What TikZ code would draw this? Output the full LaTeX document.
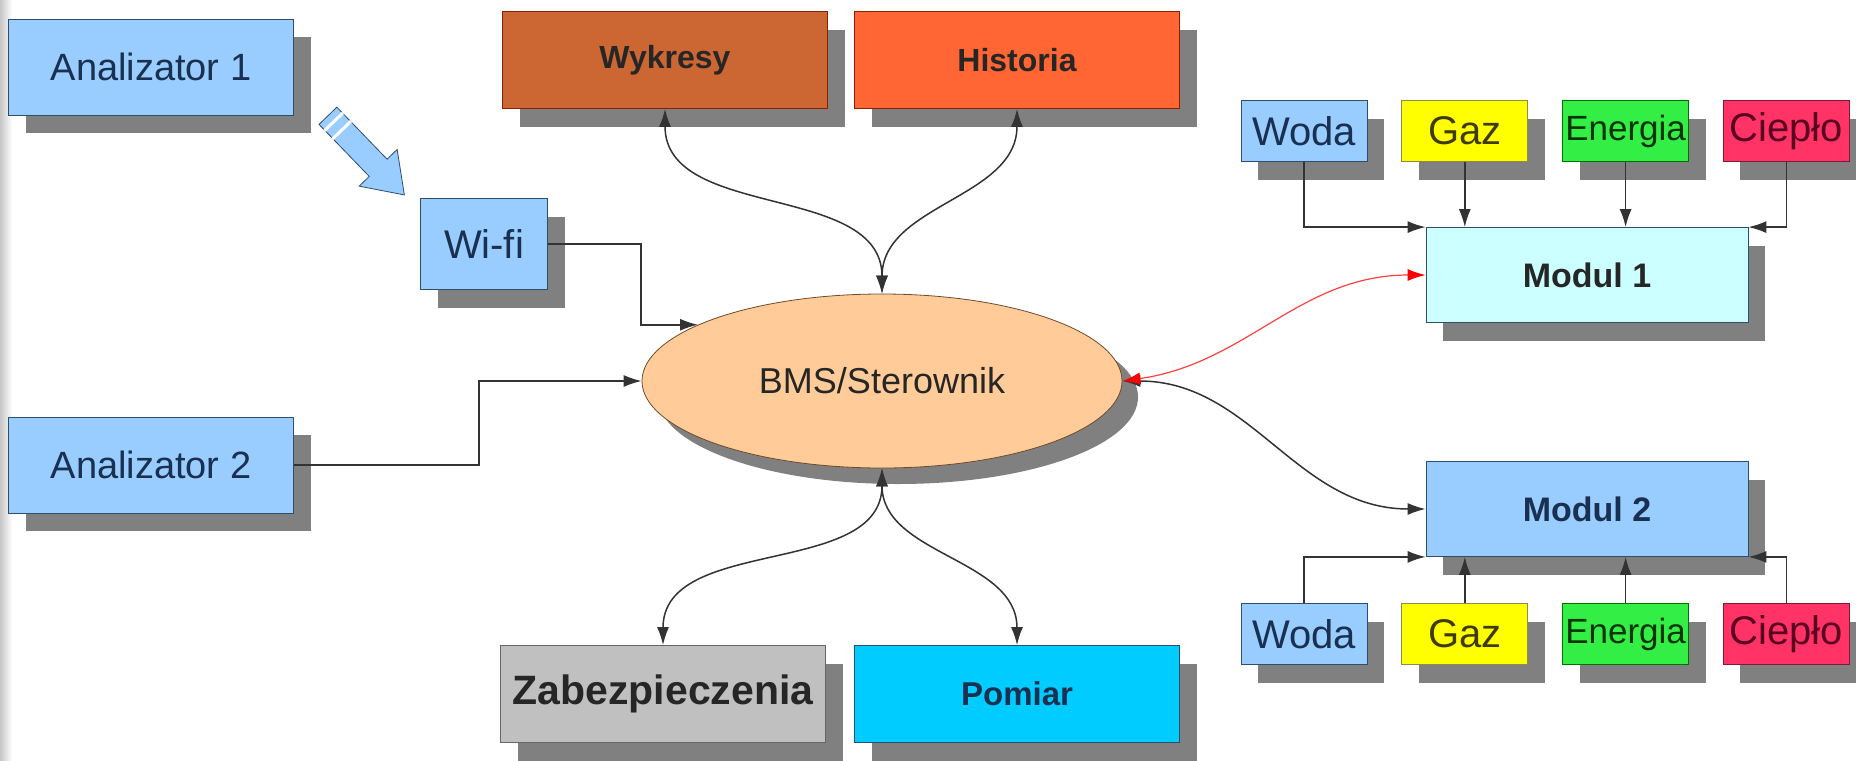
\documentclass[tikz,border=0pt]{standalone}
\usepackage{fontspec}
\setmainfont{Liberation Sans}
\usetikzlibrary{positioning,shapes.geometric,shapes.arrows,shadows,arrows.meta,calc}
\definecolor{skyblue}{HTML}{99CCFF}
\definecolor{paleblue}{HTML}{CCFFFF}
\definecolor{blueline}{HTML}{2E4E6E}
\definecolor{navytext}{HTML}{1A3050}
\definecolor{rust}{HTML}{CC6633}
\definecolor{tangerine}{HTML}{FF6633}
\definecolor{redline}{HTML}{8B2000}
\definecolor{silver}{HTML}{C0C0C0}
\definecolor{cyanblue}{HTML}{00CCFF}
\definecolor{peach}{HTML}{FFCC99}
\definecolor{brownline}{HTML}{6E4A2A}
\definecolor{gasyellow}{HTML}{FFFF00}
\definecolor{gastext}{HTML}{3F3A00}
\definecolor{energygreen}{HTML}{33EE44}
\definecolor{energytext}{HTML}{0A3300}
\definecolor{heatred}{HTML}{FF3366}
\definecolor{heattext}{HTML}{5A0020}
\definecolor{shadowgray}{HTML}{808080}
\definecolor{linegray}{HTML}{333333}
\tikzset{
    base-box/.style = {rectangle, thin, inner sep=2pt, align=center,
        drop shadow={shadow xshift=8.5pt, shadow yshift=-9pt, opacity=1, fill=shadowgray}},
    blue-box/.style = {base-box, draw=blueline, fill=skyblue, text=navytext,
        font=\fontsize{19}{22}\selectfont, minimum width=142.5pt, minimum height=48pt},
    top-box/.style = {base-box, text=black!85, font=\bfseries\fontsize{16}{19}\selectfont,
        minimum width=162.5pt, minimum height=48.5pt},
    meter-box/.style = {base-box, inner sep=0pt, font=\fontsize{20}{23}\selectfont,
        minimum width=63pt, minimum height=30.5pt},
    modul-box/.style = {base-box, draw=blueline, text=black!85, font=\bfseries\fontsize{17}{20}\selectfont,
        minimum width=161pt, minimum height=47.5pt},
    link/.style = {draw=linegray, line width=0.75pt, >={Latex[length=9pt,width=6pt]}},
}

\begin{document}
\begin{tikzpicture}[x=0.5pt,y=0.5pt]
\fill[white] (0,0) rectangle (1856,-760);
\useasboundingbox (0,0) rectangle (1856,-760);
\shade[left color=gray!45, right color=white] (0,0) rectangle (12,-760);

% sources on the left
\node[blue-box] (an1) at (151,-67) {Analizator 1};
\node[blue-box] (an2) at (151,-465) {Analizator 2};
\node[blue-box, minimum width=63.5pt, minimum height=45.5pt, font=\fontsize{20}{23}\selectfont] (wifi) at (484,-244) {Wi-fi};
\node[single arrow, draw=blueline, fill=skyblue, rotate=-46, minimum height=55pt,
    inner xsep=0pt, inner ysep=6pt, single arrow head extend=7pt, single arrow tip angle=70] (wifi-arrow) at (360,-149) {};
\draw[white, line width=1.5pt] ($(wifi-arrow.before tail)!0.12!(wifi-arrow.after head)$) -- ($(wifi-arrow.after tail)!0.12!(wifi-arrow.before head)$);
\draw[white, line width=1.5pt] ($(wifi-arrow.before tail)!0.28!(wifi-arrow.after head)$) -- ($(wifi-arrow.after tail)!0.28!(wifi-arrow.before head)$);

% controller
\node[ellipse, draw=brownline, fill=peach, text=black!85, minimum width=240pt, minimum height=87pt, inner sep=0pt,
    font=\fontsize{18}{21}\selectfont,
    drop shadow={shadow xshift=8pt, shadow yshift=-8pt, opacity=1, fill=shadowgray}] (bms) at (882,-381) {BMS/Sterownik};

% top and bottom boxes
\node[top-box, draw=redline, fill=rust] (wykresy) at (665,-60) {Wykresy};
\node[top-box, draw=redline, fill=tangerine] (historia) at (1017,-60) {Historia};
\node[top-box, draw=black!60, fill=silver, font=\bfseries\fontsize{20.5}{23}\selectfont] (zabezp) at (663,-694) {Zabezpieczenia};
\node[top-box, draw=blueline, fill=cyanblue, text=navytext, font=\bfseries\fontsize{16.5}{19}\selectfont] (pomiar) at (1017,-694) {Pomiar};

% modules
\node[modul-box, fill=paleblue] (modul1) at (1587,-275) {Modul 1};
\node[modul-box, fill=skyblue, text=navytext] (modul2) at (1587,-509) {Modul 2};

% meters of module 1
\node[meter-box, draw=blueline, fill=skyblue, text=navytext] (woda-top) at (1304,-131) {Woda};
\node[meter-box, draw=yellow!50!black, fill=gasyellow, text=gastext, right=17pt of woda-top] (gaz-top) {Gaz};
\node[meter-box, draw=green!45!black, fill=energygreen, text=energytext, font=\fontsize{17.5}{21}\selectfont, right=17pt of gaz-top] (energia-top) {Energia};
\node[meter-box, draw=heatred!50!black, fill=heatred, text=heattext, right=17pt of energia-top] (cieplo-top) {Ciepło};

% meters of module 2
\node[meter-box, draw=blueline, fill=skyblue, text=navytext] (woda-bot) at (1304,-634) {Woda};
\node[meter-box, draw=yellow!50!black, fill=gasyellow, text=gastext, right=17pt of woda-bot] (gaz-bot) {Gaz};
\node[meter-box, draw=green!45!black, fill=energygreen, text=energytext, font=\fontsize{17.5}{21}\selectfont, right=17pt of gaz-bot] (energia-bot) {Energia};
\node[meter-box, draw=heatred!50!black, fill=heatred, text=heattext, right=17pt of energia-bot] (cieplo-bot) {Ciepło};

% connections
\draw[link,->] (wifi.east) -- ++(93,0) |- (bms.163);
\draw[link,->] (an2.east) -- ++(185,0) |- (bms.west);
\draw[link,<->] (wykresy.south) to[out=-90,in=90] (bms.north);
\draw[link,<->] (historia.south) to[out=-90,in=90] (bms.north);
\draw[link,<->] (bms.south) to[out=-90,in=90] (zabezp.north);
\draw[link,<->] (bms.south) to[out=-90,in=90] (pomiar.north);
\draw[link,<->] (bms.east) to[out=0,in=180] (modul2.west);
\draw[link,<->, draw=red!75, line width=0.6pt, >={Latex[length=9pt,width=6pt,color=red]}] (bms.east) to[out=8,in=180] (modul1.west);

\draw[link,->] (woda-top.south) |- (modul1.north west);
\draw[link,->] (gaz-top.south) -- (gaz-top.south |- modul1.north);
\draw[link,->] (energia-top.south) -- (energia-top.south |- modul1.north);
\draw[link,->] (cieplo-top.south) |- (modul1.north east);
\draw[link,->] (woda-bot.north) |- (modul2.south west);
\draw[link,->] (gaz-bot.north) -- (gaz-bot.north |- modul2.south);
\draw[link,->] (energia-bot.north) -- (energia-bot.north |- modul2.south);
\draw[link,->] (cieplo-bot.north) |- (modul2.south east);
\end{tikzpicture}
\end{document}
